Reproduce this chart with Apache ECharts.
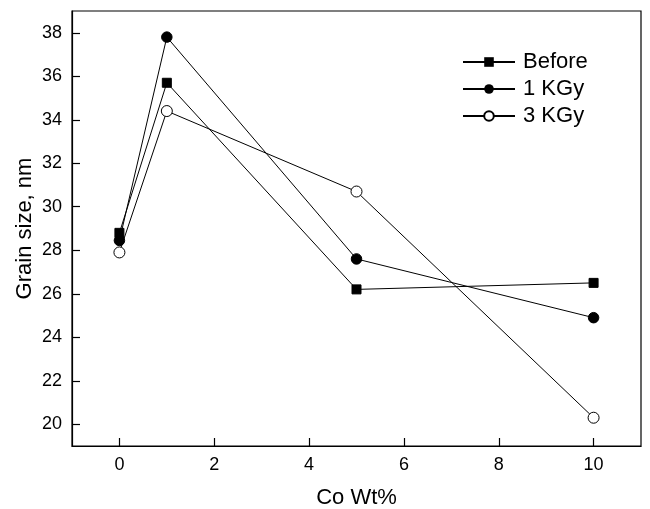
<!DOCTYPE html>
<html>
<head>
<meta charset="utf-8">
<script src="https://cdn.jsdelivr.net/npm/echarts@6/dist/echarts.min.js"></script>
<style>html,body{margin:0;padding:0;background:#fff}#c{width:650px;height:509px}</style>
</head>
<body>
<div id="c"></div>
<script>
var xValues = [0, 1, 5, 10];
var before = [28.8, 35.7, 26.2, 26.5];
var kgy1 = [28.45, 37.8, 27.6, 24.9];
var kgy3 = [27.9, 34.4, 30.7, 20.3];
var xTicks = [0, 2, 4, 6, 8, 10];
var yTicks = [20, 22, 24, 26, 28, 30, 32, 34, 36, 38];

function pairs(ys) { return xValues.map(function (x, i) { return [x, ys[i]]; }); }

var font = 'Liberation Sans, Arial, sans-serif';
var chart = echarts.init(document.getElementById('c'), null, {renderer: 'canvas'});
chart.setOption({
  animation: false,
  backgroundColor: '#fff',
  grid: {left: 72, right: 9, top: 11, bottom: 63, containLabel: false, outerBoundsMode: 'none',
         show: true, borderColor: '#000', borderWidth: 1.2, backgroundColor: 'transparent'},
  legend: {
    orient: 'vertical', left: 462, top: 51, padding: 0, itemWidth: 52, itemHeight: 12, itemGap: 5,
    textStyle: {fontFamily: font, fontSize: 22, color: '#000', padding: [0, 0, 0, 3]},
    data: ['Before', '1 KGy', '3 KGy']
  },
  xAxis: {
    type: 'value', min: -1, max: 11,
    name: 'Co Wt%', nameLocation: 'middle', nameGap: 41, nameMoveOverlap: false,
    nameTextStyle: {fontFamily: font, fontSize: 22, color: '#000'},
    axisLine: {show: true, onZero: false, lineStyle: {color: '#000', width: 1.2}},
    axisTick: {show: true, inside: true, length: 8, lineStyle: {color: '#000', width: 1.2}, customValues: xTicks},
    axisLabel: {fontFamily: font, fontSize: 18, color: '#000', margin: 10, customValues: xTicks},
    splitLine: {show: false}
  },
  yAxis: {
    type: 'value', min: 19, max: 39,
    name: 'Grain size, nm', nameLocation: 'middle', nameGap: 36, nameMoveOverlap: false,
    nameTextStyle: {fontFamily: font, fontSize: 22, color: '#000'},
    axisLine: {show: true, onZero: false, lineStyle: {color: '#000', width: 1.2}},
    axisTick: {show: true, inside: true, length: 8, lineStyle: {color: '#000', width: 1.2}, customValues: yTicks},
    axisLabel: {fontFamily: font, fontSize: 18, color: '#000', margin: 10, customValues: yTicks},
    splitLine: {show: false}
  },
  series: [
    {name: 'Before', type: 'line', data: pairs(before), symbol: 'rect', symbolSize: 9,
     lineStyle: {color: '#000', width: 1}, itemStyle: {color: '#000', borderColor: '#000'}, color: '#000'},
    {name: '1 KGy', type: 'line', data: pairs(kgy1), symbol: 'circle', symbolSize: 10.5,
     lineStyle: {color: '#000', width: 1}, itemStyle: {color: '#000', borderColor: '#000'}, color: '#000'},
    {name: '3 KGy', type: 'line', data: pairs(kgy3), symbol: 'circle', symbolSize: 11,
     lineStyle: {color: '#000', width: 1}, itemStyle: {color: '#fff', borderColor: '#000', borderWidth: 1}, color: '#000'}
  ]
});
</script>
</body>
</html>
